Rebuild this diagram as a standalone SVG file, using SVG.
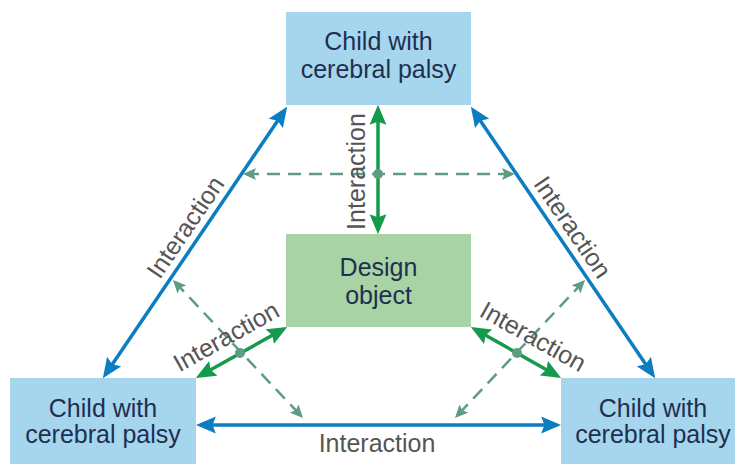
<svg xmlns="http://www.w3.org/2000/svg" width="735" height="464" viewBox="0 0 735 464">
<style>
.box{fill:#a6d5ee}
.gbox{fill:#a7d3a5}
.bt{font-family:"Liberation Sans",Arial,sans-serif;font-size:25px;fill:#1f2f4e;text-anchor:middle}
.lbl{font-family:"Liberation Sans",Arial,sans-serif;font-size:25px;fill:#555555;text-anchor:middle}
.blue{stroke:#0b7dc1;stroke-width:3.5;fill:none;marker-start:url(#ab);marker-end:url(#ab)}
.green{stroke:#15994a;stroke-width:3.5;fill:none;marker-start:url(#ag);marker-end:url(#ag)}
.dash{stroke:#5f9c86;stroke-width:2.5;fill:none;stroke-dasharray:13 8;marker-start:url(#ad);marker-end:url(#ad)}
.dot{fill:#5f9c86}
</style>
<defs>
<marker id="ab" markerUnits="userSpaceOnUse" markerWidth="20" markerHeight="18" refX="15" refY="8" orient="auto-start-reverse" viewBox="0 0 19 16">
<path d="M0,0 L19,8 L0,16 L3,8 z" fill="#0b7dc1"/>
</marker>
<marker id="ag" markerUnits="userSpaceOnUse" markerWidth="20" markerHeight="18" refX="15" refY="8" orient="auto-start-reverse" viewBox="0 0 19 16">
<path d="M0,0 L19,8 L0,16 L3,8 z" fill="#15994a"/>
</marker>
<marker id="ad" markerUnits="userSpaceOnUse" markerWidth="14" markerHeight="12" refX="10" refY="6" orient="auto-start-reverse" viewBox="0 0 13 12">
<path d="M0,0 L13,6 L0,12 L2.5,6 z" fill="#5f9c86"/>
</marker>
</defs>

<g id="node-top">
<rect class="box" x="286" y="12" width="185" height="93"/>
<text class="bt" x="378.5" y="50">Child with</text>
<text class="bt" x="378.5" y="78">cerebral palsy</text>
</g>
<g id="node-design">
<rect class="gbox" x="286" y="234" width="185" height="93"/>
<text class="bt" x="378.5" y="276">Design</text>
<text class="bt" x="378.5" y="304">object</text>
</g>
<g id="node-left">
<rect class="box" x="10" y="378" width="186" height="90"/>
<text class="bt" x="103" y="417">Child with</text>
<text class="bt" x="103" y="443">cerebral palsy</text>
</g>
<g id="node-right">
<rect class="box" x="561" y="378" width="180" height="90"/>
<text class="bt" x="653" y="417">Child with</text>
<text class="bt" x="653" y="443">cerebral palsy</text>
</g>

<g id="connectors">
<line class="blue" x1="105.2" y1="374.7" x2="284.8" y2="110.3"/>
<line class="blue" x1="652.8" y1="374.7" x2="473.2" y2="110.3"/>
<line class="blue" x1="200" y1="425" x2="557" y2="425"/>
<line class="dash" x1="246" y1="174" x2="512" y2="174"/>
<line class="dash" x1="175" y1="282.2" x2="301" y2="415.8"/>
<line class="dash" x1="583" y1="282.2" x2="457" y2="415.8"/>
<line class="green" x1="378" y1="109" x2="378" y2="230"/>
<line class="green" x1="283.5" y1="329" x2="199.5" y2="376"/>
<line class="green" x1="474.5" y1="329" x2="557.5" y2="376"/>
<circle class="dot" cx="378" cy="174" r="5"/>
<circle class="dot" cx="240" cy="353" r="5"/>
<circle class="dot" cx="517" cy="353" r="5"/>
<text class="lbl" transform="translate(365,171.5) rotate(-90)">Interaction</text>
<text class="lbl" transform="translate(192.5,232) rotate(-55.8)">Interaction</text>
<text class="lbl" transform="translate(565.5,232) rotate(55.8)">Interaction</text>
<text class="lbl" transform="translate(230.3,344) rotate(-29.3)">Interaction</text>
<text class="lbl" transform="translate(529,344) rotate(29.3)">Interaction</text>
<text class="lbl" x="377" y="452">Interaction</text>
</g>
</svg>
